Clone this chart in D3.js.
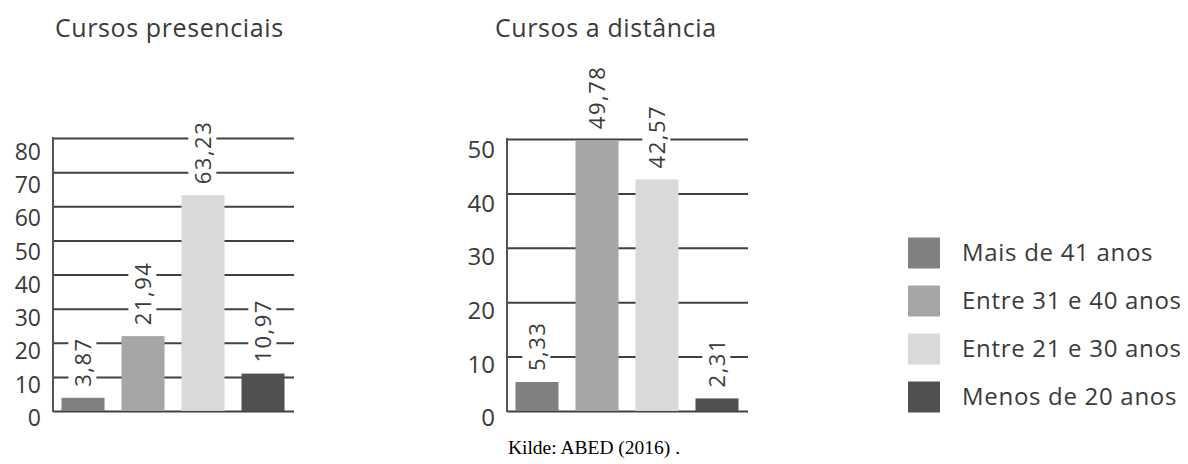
<!DOCTYPE html>
<html>
<head>
<meta charset="utf-8">
<script src="https://cdn.jsdelivr.net/npm/d3@7"></script>
<style>
  html, body { margin: 0; padding: 0; background: #fff; }
  svg { display: block; }
</style>
</head>
<body>
<svg id="chart" width="1188" height="464"></svg>
<script>
// Age groups and shares (%)
const categories = ["Mais de 41 anos", "Entre 31 e 40 anos", "Entre 21 e 30 anos", "Menos de 20 anos"];
const presenciais = [3.87, 21.94, 63.23, 10.97];
const distancia = [5.33, 49.78, 42.57, 2.31];
const presenciaisTicks = [0, 10, 20, 30, 40, 50, 60, 70, 80];
const distanciaTicks = [0, 10, 20, 30, 40, 50];
const titles = ["Cursos presenciais", "Cursos a distância"];
const sourceText = "Kilde: ABED (2016) .";

const colors = d3.scaleOrdinal().domain(categories).range(["#808080", "#a6a6a6", "#d9d9d9", "#505050"]);
const fmt = d3.formatLocale({ decimal: ",", thousands: ".", grouping: [3], currency: ["", ""] }).format(".2f");
const font = "'Open Sans', 'Noto Sans', sans-serif";
const gridColor = "#404040";
const textColor = "#3a3a3a";

const svg = d3.select("#chart");

function drawPanel(opts) {
  const g = svg.append("g").attr("transform", `translate(${opts.left},0)`);
  const width = 241;

  const x = d3.scaleBand().domain(categories).range([0, width - 1])
    .paddingInner(0.283).paddingOuter(0.1415);
  const y = d3.scaleLinear().domain([0, opts.max]).range([411, opts.top]);
  // tick labels sit a little lower than their gridlines in the original
  const yLabel = d3.scaleLinear().domain([0, opts.max]).range([418, opts.labelTop]);

  // gridlines
  g.append("g")
    .call(d3.axisLeft(y).tickValues(opts.ticks).tickSize(-width).tickFormat(() => ""))
    .call(s => s.select(".domain").remove())
    .selectAll("line").attr("stroke", gridColor).attr("stroke-width", 2);

  // vertical axis line
  g.append("line")
    .attr("x1", 0).attr("x2", 0)
    .attr("y1", y(opts.max) - 1).attr("y2", y(0) + 1)
    .attr("stroke", "#555").attr("stroke-width", 2);

  // tick labels
  g.append("g")
    .call(d3.axisLeft(yLabel).tickValues(opts.ticks).tickSize(0).tickPadding(12))
    .call(s => s.select(".domain").remove())
    .selectAll("text")
    .attr("fill", textColor)
    .style("font-family", font)
    .style("font-size", opts.tickSize + "px");

  const data = categories.map((c, i) => ({ cat: c, value: opts.values[i] }));

  // bars
  g.selectAll("rect.bar").data(data).join("rect")
    .attr("class", "bar")
    .attr("x", d => x(d.cat))
    .attr("width", x.bandwidth())
    .attr("y", d => y(d.value))
    .attr("height", d => y(0) - y(d.value))
    .attr("fill", d => colors(d.cat));

  // value labels, rotated, on a white patch that cuts the gridlines
  const labels = g.selectAll("g.lbl").data(data).join("g")
    .attr("class", "lbl")
    .attr("transform", d => `translate(${x(d.cat) + x.bandwidth() / 2},${y(d.value) - 11}) rotate(-90)`);
  labels.append("text")
    .attr("dy", "0.38em")
    .attr("fill", textColor)
    .style("font-family", font)
    .style("font-size", "22px")
    .style("letter-spacing", "1.5px")
    .text(d => fmt(d.value));
  labels.each(function () {
    const t = d3.select(this).select("text");
    const b = t.node().getBBox();
    d3.select(this).insert("rect", "text")
      .attr("x", b.x - 2).attr("y", b.y + 1)
      .attr("width", b.width + 2).attr("height", b.height - 2)
      .attr("fill", "#fff");
  });

  // title
  svg.append("text")
    .attr("x", opts.titleX).attr("y", 37)
    .attr("fill", textColor)
    .style("font-family", font)
    .style("font-size", "25px")
    .style("letter-spacing", "0.6px")
    .text(opts.title);
}

drawPanel({ left: 53, top: 138, labelTop: 152, max: 80, ticks: presenciaisTicks, values: presenciais,
  tickSize: 23, title: titles[0], titleX: 55 });
drawPanel({ left: 507, top: 139, labelTop: 150, max: 50, ticks: distanciaTicks, values: distancia,
  tickSize: 24, title: titles[1], titleX: 495 });

// legend
const legY = d3.scalePoint().domain(categories).range([253, 397]);
const leg = svg.append("g").selectAll("g").data(categories).join("g")
  .attr("transform", d => `translate(908,${legY(d)})`);
leg.append("rect")
  .attr("x", 0).attr("y", -15.5).attr("width", 32).attr("height", 31)
  .attr("fill", d => colors(d));
leg.append("text")
  .attr("x", 54).attr("dy", "0.35em")
  .attr("fill", textColor)
  .style("font-family", font)
  .style("font-size", "24px")
  .style("letter-spacing", "0.7px")
  .text(d => d);

// source
svg.append("text")
  .attr("x", 594).attr("y", 454)
  .attr("text-anchor", "middle")
  .attr("fill", "#000")
  .style("font-family", "'Liberation Serif', 'Times New Roman', serif")
  .style("font-size", "19.5px")
  .text(sourceText);
</script>
</body>
</html>
